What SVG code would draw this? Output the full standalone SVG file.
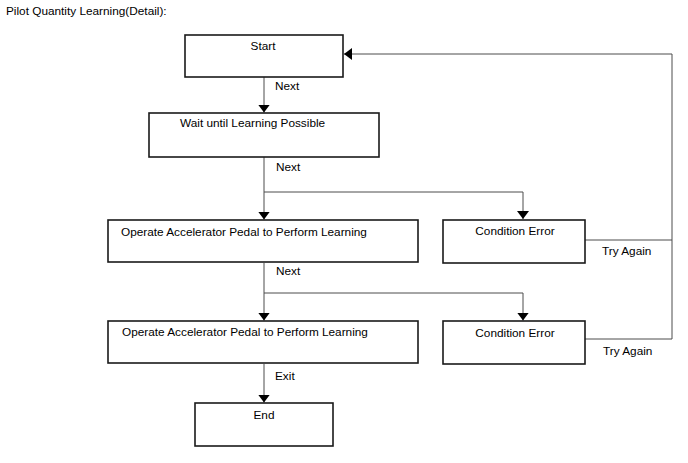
<svg xmlns="http://www.w3.org/2000/svg" width="688" height="463" viewBox="0 0 688 463">
<style>
text{font-family:"Liberation Sans",Arial,sans-serif;font-size:11.8px;fill:#000}
.box{fill:#fff;stroke:#1a1a1a;stroke-width:1.6}
.ln{fill:none;stroke:#4d4d4d;stroke-width:1}
</style>
<defs>
<marker id="ah" viewBox="0 0 10 10" refX="10" refY="5" markerWidth="8" markerHeight="12" markerUnits="userSpaceOnUse" orient="auto" preserveAspectRatio="none">
<path d="M0,0 L10,5 L0,10 Z" fill="#000"/>
</marker>
</defs>
<rect width="688" height="463" fill="#fff"/>
<text x="6" y="15">Pilot Quantity Learning(Detail):</text>
<g id="connectors">
<path class="ln" d="M264,77 V112.5" marker-end="url(#ah)"/>
<path class="ln" d="M264,157 V219.5" marker-end="url(#ah)"/>
<path class="ln" d="M264,192 H523 V219" marker-end="url(#ah)"/>
<path class="ln" d="M264,263 V320.5" marker-end="url(#ah)"/>
<path class="ln" d="M264,293 H523 V320.5" marker-end="url(#ah)"/>
<path class="ln" d="M264,364 V402.5" marker-end="url(#ah)"/>
<path class="ln" d="M585,240 H672 V54 H344" marker-end="url(#ah)"/>
<path class="ln" d="M585,339 H672 V240"/>
<text x="275" y="90">Next</text>
<text x="276" y="171">Next</text>
<text x="276" y="275">Next</text>
<text x="275" y="380">Exit</text>
<text x="602" y="255">Try Again</text>
<text x="603" y="355">Try Again</text>
</g>
<g id="start"><rect class="box" x="185" y="35" width="158" height="42"/><text x="263" y="50" text-anchor="middle">Start</text></g>
<g id="wait"><rect class="box" x="149" y="113" width="230" height="44"/><text x="180" y="127">Wait until Learning Possible</text></g>
<g id="operate1"><rect class="box" x="108" y="220" width="310" height="42"/><text x="121" y="236">Operate Accelerator Pedal to Perform Learning</text></g>
<g id="error1"><rect class="box" x="443" y="220" width="142" height="43"/><text x="515" y="235" text-anchor="middle">Condition Error</text></g>
<g id="operate2"><rect class="box" x="108" y="321" width="310" height="42"/><text x="122" y="336">Operate Accelerator Pedal to Perform Learning</text></g>
<g id="error2"><rect class="box" x="443" y="321" width="142" height="43"/><text x="515" y="337" text-anchor="middle">Condition Error</text></g>
<g id="end"><rect class="box" x="195" y="403" width="138" height="43"/><text x="264" y="419" text-anchor="middle">End</text></g>
</svg>
